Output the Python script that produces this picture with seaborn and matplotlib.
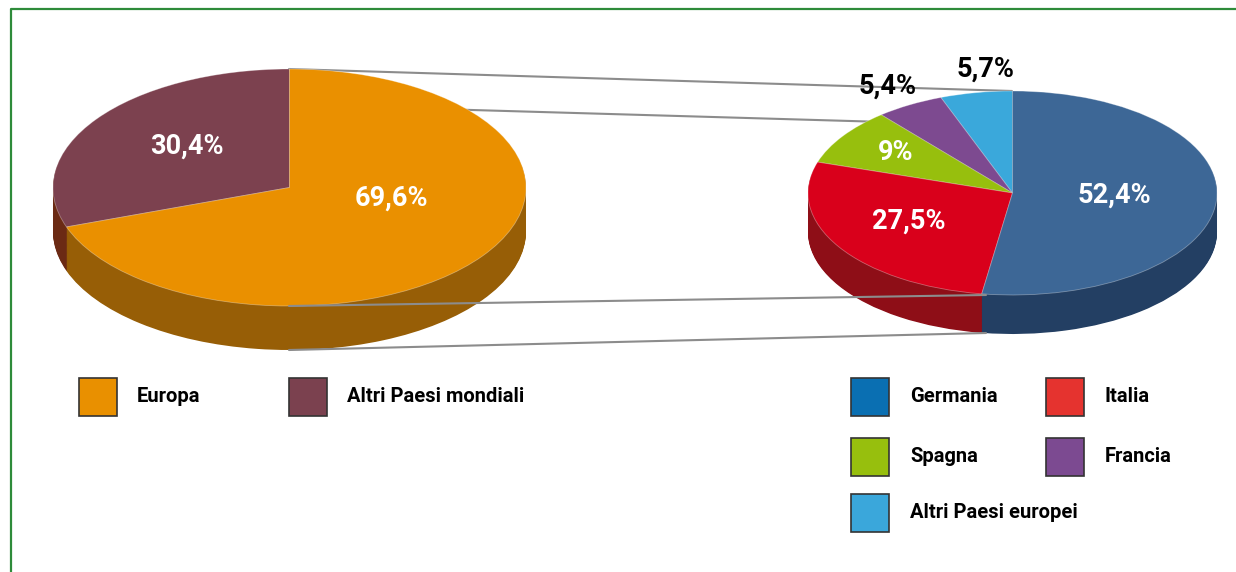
# Export per area: Europa vs resto del mondo, and breakdown of Europa
import numpy as np
import matplotlib
matplotlib.use("Agg")
import matplotlib.pyplot as plt
from matplotlib.patches import Rectangle
import seaborn as sns

sns.set_style("white")
plt.rcParams['font.family'] = ['Roboto', 'DejaVu Sans']

# data
world_labels = ["Altri Paesi mondiali", "Europa"]
world_values = [30.4, 69.6]
world_top = ["#7c414f", "#ea9000"]
world_side = ["#6b2a14", "#975e06"]

europe_labels = ["Altri Paesi europei", "Francia", "Spagna", "Italia", "Germania"]
europe_values = [5.7, 5.4, 9, 27.5, 52.4]
europe_top = ["#3aa8db", "#7d4a90", "#97bf0d", "#d9001b", "#3d6796"]
europe_side = ["#23688a", "#4d2c5a", "#5d7708", "#8e0e17", "#233f63"]

legend_world = ["Europa", "Altri Paesi mondiali"]
legend_world_colors = ["#e99000", "#7b414f"]
legend_europe = ["Germania", "Italia", "Spagna", "Francia", "Altri Paesi europei"]
legend_europe_colors = ["#0a6fb2", "#e5332f", "#97bf0d", "#7c4a91", "#3aa7db"]

W, H = 1236, 572
fig = plt.figure(figsize=(W / 100, H / 100), dpi=100)

bg = fig.add_axes([0, 0, 1, 1], zorder=0)
bg.set_xlim(0, W)
bg.set_ylim(H, 0)
bg.axis('off')

# green frame (top and left)
bg.plot([11, 11, W + 5], [H + 5, 9, 9], color="#2e8b3a", lw=1.6, solid_capstyle='butt')
# connectors behind the pies
grey = "#8c8c8c"
bg.plot([289, 1012], [69, 91], color=grey, lw=1.5)
bg.plot([300, 885], [105, 122], color=grey, lw=1.5)


def pie3d(values, top, side, cx, cy, rx, ry, depth, z):
    ax = fig.add_axes([0, 0, 1, 1], zorder=z)
    for d in np.linspace(depth, 0, 50, endpoint=False):
        ax.pie(values, colors=side, startangle=90, center=(0, -d / ry),
               wedgeprops=dict(linewidth=0))
    ax.pie(values, colors=top, startangle=90, center=(0, 0),
           wedgeprops=dict(linewidth=0.6, edgecolor=(1, 1, 1, 0.35)))
    yc = H - cy
    ax.set_xlim(-cx / rx, (W - cx) / rx)
    ax.set_ylim(-yc / ry, (H - yc) / ry)
    ax.set_aspect('auto')
    ax.axis('off')
    return ax


pie3d(world_values, world_top, world_side, 289.5, 187.5, 236.5, 118.5, 44, 1)
pie3d(europe_values, europe_top, europe_side, 1012.5, 193, 204.5, 102, 39, 2)

ov = fig.add_axes([0, 0, 1, 1], zorder=3)
ov.set_xlim(0, W)
ov.set_ylim(H, 0)
ov.axis('off')
ov.plot([289, 986], [306, 295], color=grey, lw=1.5)
ov.plot([289, 986], [350, 333], color=grey, lw=1.5)


def pct(v):
    return f"{v:g}".replace(".", ",") + "%"


world_pos = [(187, 146), (391, 198)]
for v, (x, y) in zip(world_values, world_pos):
    ov.text(x, y, pct(v), color="white", fontsize=19.5, fontweight="bold",
            ha="center", va="center")

europe_pos = [(986, 69), (888, 86), (896, 152), (909, 221), (1114, 195)]
europe_txt = ["black", "black", "white", "white", "white"]
for v, (x, y), c in zip(europe_values, europe_pos, europe_txt):
    ov.text(x, y, pct(v), color=c, fontsize=19.5, fontweight="bold",
            ha="center", va="center")

# legends
world_leg_pos = [(79, 378), (289, 378)]
for lab, col, (x, y) in zip(legend_world, legend_world_colors, world_leg_pos):
    ov.add_patch(Rectangle((x, y), 38, 38, facecolor=col, edgecolor="#333333", lw=1.2))
    ov.text(x + 58, y + 19, lab, fontsize=14.5, fontweight="bold", color="black",
            va="center", ha="left")

europe_leg_pos = [(851, 378), (1046, 378), (851, 438), (1046, 438), (851, 494)]
for lab, col, (x, y) in zip(legend_europe, legend_europe_colors, europe_leg_pos):
    ov.add_patch(Rectangle((x, y), 38, 38, facecolor=col, edgecolor="#333333", lw=1.2))
    ov.text(x + 59, y + 19, lab, fontsize=14.5, fontweight="bold", color="black",
            va="center", ha="left")

fig.savefig("out.png", dpi=100, facecolor="white")
